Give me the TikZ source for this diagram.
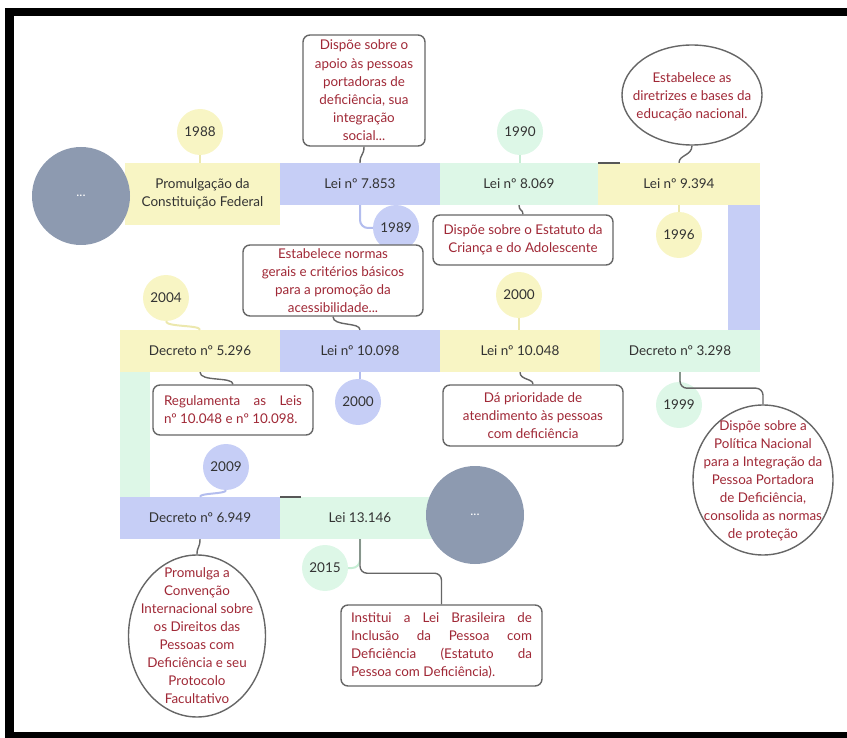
\documentclass[tikz,border=0pt]{standalone}
\usepackage{fontspec}
\setmainfont{Lato}
\usetikzlibrary{shapes.geometric,calc}
\definecolor{yellowF}{HTML}{F8F5C4}
\definecolor{blueF}{HTML}{C6CEF6}
\definecolor{greenF}{HTML}{DDF7E7}
\definecolor{grayC}{HTML}{8D9AB0}
\definecolor{redT}{HTML}{A02836}
\definecolor{lineC}{HTML}{666666}
\definecolor{textC}{HTML}{333333}
\definecolor{yellowL}{HTML}{ECE8AE}
\definecolor{blueL}{HTML}{B3BDEE}
\definecolor{greenL}{HTML}{C6EDD4}
\tikzset{
  bar/.style={draw=none, inner sep=0pt, minimum height=42pt, text=textC,
    font=\fontsize{13.5}{18}\selectfont, align=center},
  vbar/.style={draw=none, inner sep=0pt},
  dots/.style={circle, fill=grayC, minimum size=98pt, inner sep=0pt, text=white,
    font=\fontsize{13}{14}\selectfont},
  year/.style={circle, minimum size=46pt, inner sep=0pt, text=textC,
    font=\fontsize{13.5}{16}\selectfont},
  note/.style={draw=lineC, line width=1.4pt, rounded corners=7pt, fill=white,
    text=redT, align=center, inner sep=0pt, font=\fontsize{13.4}{18.2}\selectfont},
  noteell/.style={ellipse, draw=lineC, line width=1.4pt, fill=white, inner sep=0pt},
  notetxt/.style={text=redT, align=center, inner sep=0pt, font=\fontsize{13.4}{18}\selectfont},
  link/.style={draw=lineC, line width=1.4pt},
  ylink/.style={line width=2pt},
  tick/.style={draw=lineC!85!black, line width=1.6pt},
}
\begin{document}
\begin{tikzpicture}[x=1pt,y=-1pt]
\useasboundingbox (0,0) rectangle (847,738);
% frame
\fill[black] (5,8) rectangle (847,16);
\fill[black] (5,8) rectangle (14,738);
\fill[black] (5,732) rectangle (847,738);

% bars
\node[bar, fill=yellowF, minimum width=155pt, minimum height=62pt] (b1) at (202.5,194) {Promulgação da\\Constituição Federal};
\node[bar, fill=blueF, minimum width=160pt] (b2) at (360,184) {Lei nº 7.853};
\node[bar, fill=greenF, minimum width=158pt] (b3) at (519,184) {Lei nº 8.069};
\node[bar, fill=yellowF, minimum width=162pt] (b4) at (679,184) {Lei nº 9.394};
\node[vbar, fill=blueF, minimum width=32pt, minimum height=125pt] (v1) at (744,267.5) {};
\node[bar, fill=greenF, minimum width=160pt] (b5) at (680,351) {Decreto nº 3.298};
\node[bar, fill=yellowF, minimum width=160pt] (b6) at (520,351) {Lei nº 10.048};
\node[bar, fill=blueF, minimum width=160pt] (b7) at (360,351) {Lei nº 10.098};
\node[bar, fill=yellowF, minimum width=160pt] (b8) at (200,351) {Decreto nº 5.296};
\node[vbar, fill=greenF, minimum width=30pt, minimum height=125pt] (v2) at (135,434.5) {};
\node[bar, fill=blueF, minimum width=160pt] (b9) at (200,518) {Decreto nº 6.949};
\node[bar, fill=greenF, minimum width=160pt] (b10) at (360,518) {Lei 13.146};

% ticks
\draw[tick] (b3.north east) -- ++(22,0);
\draw[tick] (b9.north east) -- ++(21,0);

% big gray circles
\node[dots] (g1) at (81,196) {...};
\node[dots] (g2) at (475,515) {...};

% years
\node[year, fill=yellowF] (y1988) at (200,132) {1988};
\node[year, fill=blueF] (y1989) at (396,228) {1989};
\node[year, fill=greenF] (y1990) at (520,132) {1990};
\node[year, fill=yellowF] (y1996) at (679,235) {1996};
\node[year, fill=yellowF] (y2004) at (166,298) {2004};
\node[year, fill=blueF] (y2000a) at (358,402) {2000};
\node[year, fill=yellowF] (y2000b) at (519,295) {2000};
\node[year, fill=greenF] (y1999) at (679,405) {1999};
\node[year, fill=blueF] (y2009) at (226,467) {2009};
\node[year, fill=greenF] (y2015) at (325,568) {2015};

% year connectors
\draw[ylink, yellowL] (y1988.south) -- (y1988.south |- b1.north);
\draw[ylink, blueL, rounded corners=8pt] (b2.south) |- (y1989.west);
\draw[ylink, greenL] (y1990.south) -- (y1990.south |- b3.north);
\draw[ylink, yellowL] (b4.south) -- (b4.south |- y1996.north);
\draw[ylink, yellowL] (y2004.south) .. controls +(0,6) and +(0,-5) .. (b8.north);
\draw[ylink, blueL] (b7.south) -- (b7.south |- y2000a.north);
\draw[ylink, yellowL] (y2000b.south) -- (y2000b.south |- b6.north);
\draw[ylink, greenL] (b5.south) -- (b5.south |- y1999.north);
\draw[ylink, blueL] (y2009.south) .. controls +(0,4) and +(0,-4) .. (b9.north);
\draw[ylink, greenL, rounded corners=8pt] (b10.south) |- (y2015.east);

% notes
\node[note, minimum width=122pt, minimum height=111pt] (c1) at (364,90.5)
  {Dispõe sobre o\\apoio às pessoas\\portadoras de\\deficiência, sua\\integração\\social...};
\node[noteell, minimum width=140pt, minimum height=100pt] (c2) at (692,95) {};
\node[notetxt] (c2t) at (692,97) {Estabelece as\\diretrizes e bases da\\educação nacional.};
\node[note, minimum width=180pt, minimum height=50pt] (c3) at (523,240)
  {Dispõe sobre o Estatuto da\\Criança e do Adolescente};
\node[note, minimum width=180pt, minimum height=71pt] (c4) at (333,280.5)
  {Estabelece normas\\gerais e critérios básicos\\para a promoção da\\acessibilidade...};
\node[note, minimum width=160pt, minimum height=50pt, align=left] (c5) at (233,410)
  {\makebox[138pt][s]{Regulamenta as Leis}\\nº 10.048 e nº 10.098.};
\node[note, minimum width=180pt, minimum height=61pt] (c6) at (533,415.5)
  {Dá prioridade de\\atendimento às pessoas\\com deficiência};
\node[noteell, minimum width=140pt, minimum height=150pt] (c7) at (763,480) {};
\node[notetxt] (c7t) at (763,481)
  {Dispõe sobre a\\Política Nacional\\para a Integração da\\Pessoa Portadora\\de Deficiência,\\consolida as normas\\de proteção};
\node[noteell, minimum width=137pt, minimum height=162pt] (c8) at (197,636) {};
\node[notetxt] (c8t) at (197,636)
  {Promulga a\\Convenção\\Internacional sobre\\os Direitos das\\Pessoas com\\Deficiência e seu\\Protocolo\\Facultativo};
\node[note, minimum width=201pt, minimum height=81pt, align=left] (c9) at (441.5,645.5)
  {\makebox[181pt][s]{Institui a Lei Brasileira de}\\\makebox[181pt][s]{Inclusão da Pessoa com}\\\makebox[181pt][s]{Deficiência (Estatuto da}\\Pessoa com Deficiência).};

% note connectors
\draw[link] (c1.south) .. controls +(0,9) and +(0,-9) .. (b2.north);
\draw[link] (c2.south) .. controls +(0,10) and +(0,-8) .. (b4.north);
\draw[link] (b3.south) .. controls +(0,6) and +(0,-5) .. (c3.north);
\draw[link] (c4.south) .. controls +(0,10) and +(0,-8) .. (b7.north);
\draw[link] (b8.south) .. controls +(0,10) and +(0,-8) .. (c5.north);
\draw[link] (b6.south) .. controls +(0,8) and +(0,-6) .. (c6.north);
\draw[link, rounded corners=7pt] (b5.south) -- ++(0,16) -| (c7.north);
\draw[link] (b9.south) .. controls +(0,9) and +(0,-8) .. (c8.north);
\draw[link, rounded corners=7pt] (b10.south) -- ++(0,34) -| (c9.north);
\end{tikzpicture}
\end{document}
